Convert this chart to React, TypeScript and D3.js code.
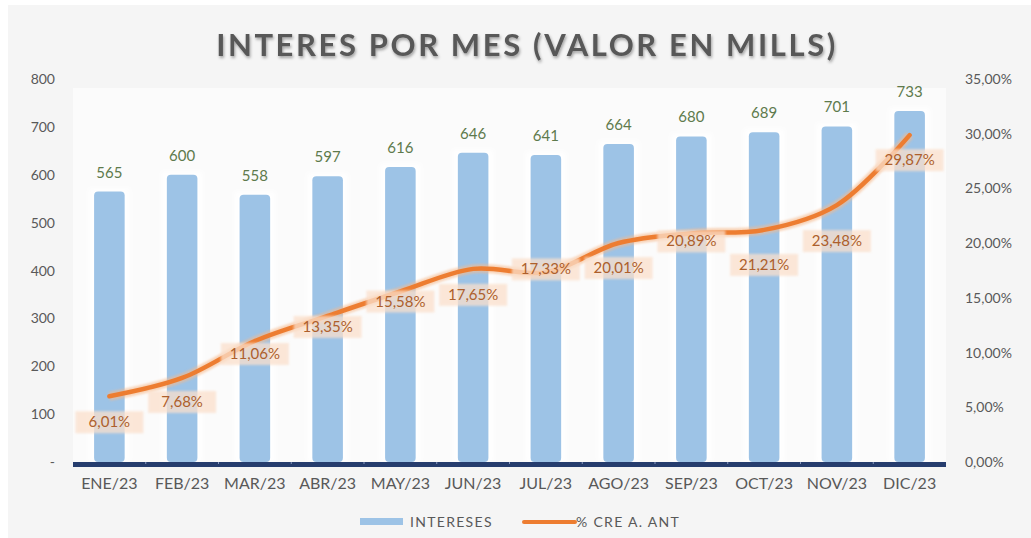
import React from "react";
import * as d3 from "d3";

const categories = ["ENE/23","FEB/23","MAR/23","ABR/23","MAY/23","JUN/23","JUL/23","AGO/23","SEP/23","OCT/23","NOV/23","DIC/23"];
const intereses = [565,600,558,597,616,646,641,664,680,689,701,733];
const crecimiento = [6.01,7.68,11.06,13.35,15.58,17.65,17.33,20.01,20.89,21.21,23.48,29.87];
// label offsets relative to line point (px)
const labelDy = [26,24,13,11,10,26,-3,25,8,35,36,25];
const leftTicks = [0,100,200,300,400,500,600,700,800];
const rightTicks = [0,5,10,15,20,25,30,35];

const W = 1031, H = 538;
const M = { left: 73, right: 946, top: 79, bottom: 462 };
const FONT = "Lato, 'Open Sans', sans-serif";

export default function App() {
  const x = d3.scaleBand().domain(categories).range([M.left, M.right]).paddingInner(0.58).paddingOuter(0.29);
  const xc = (c: string) => (x(c) as number) + x.bandwidth() / 2;
  const y = d3.scaleLinear().domain([0, 800]).range([M.bottom, M.top]);
  const y2 = d3.scaleLinear().domain([0, 35]).range([M.bottom, M.top]);
  const band = d3.scaleBand().domain(categories).range([M.left, M.right]);
  const line = d3.line<number>().x((_, i) => xc(categories[i])).y(d => y2(d)).curve(d3.curveCatmullRom.alpha(0.5));
  const fmt = (v: number) => v.toFixed(2).replace(".", ",") + "%";

  return (
    <svg width={W} height={H} style={{ position: "absolute", left: 0, top: 0, display: "block" }} fontFamily={FONT}>
      <defs>
        <filter id="tshadow" x="-10%" y="-30%" width="120%" height="160%">
          <feDropShadow dx="1" dy="2" stdDeviation="1.5" floodColor="#000" floodOpacity="0.35" />
        </filter>
        <filter id="blur1"><feGaussianBlur stdDeviation="1.2" /></filter>
        <filter id="glow" x="-20%" y="-20%" width="140%" height="140%">
          <feGaussianBlur stdDeviation="2.5" />
        </filter>
        <filter id="soft" x="-5%" y="-5%" width="110%" height="110%"><feGaussianBlur stdDeviation="0.6" /></filter>
      </defs>
      <rect x={0} y={0} width={W} height={H} fill="#ffffff" />
      <rect x={8} y={5} width={W - 8} height={H - 5} fill="#f5f5f5" />
      <rect x={M.left} y={88} width={M.right - M.left} height={M.bottom - 88} fill="#fbfbfb" />

      <text x={527} y={56} textAnchor="middle" fontSize={31} fontWeight="bold" fill="#595959" filter="url(#tshadow)" letterSpacing="2.6">
        INTERES POR MES (VALOR EN MILLS)
      </text>

      {/* bar glows */}
      <g filter="url(#glow)">
        {intereses.map((v, i) => (
          <rect key={i} x={(x(categories[i]) as number) - 5} y={y(v) - 3} width={x.bandwidth() + 10} height={M.bottom - y(v) + 3} fill="#ffffff" />
        ))}
      </g>
      <g filter="url(#soft)">
        {intereses.map((v, i) => (
          <rect key={i} x={x(categories[i]) as number} y={y(v)} width={x.bandwidth()} height={M.bottom - y(v)} rx={4} fill="#9dc3e6" />
        ))}
      </g>

      {/* axes lines */}
      <line x1={M.left} x2={M.left} y1={88} y2={M.bottom} stroke="#9a9a9a" strokeWidth={2} filter="url(#soft)" />
      <line x1={M.right} x2={M.right} y1={88} y2={M.bottom} stroke="#9a9a9a" strokeWidth={2} filter="url(#soft)" />
      <rect x={M.left} y={M.bottom} width={M.right - M.left} height={5} fill="#283c6e" filter="url(#soft)" />
      {categories.slice(1).map((c) => (
        <line key={c} x1={band(c) as number} x2={band(c) as number} y1={M.bottom} y2={M.bottom + 2} stroke="#8a9ac0" strokeWidth={1} />
      ))}

      {/* left ticks */}
      {leftTicks.map(t => (
        <text key={t} x={55} y={y(t) + 5} textAnchor="end" fontSize={14} fill="#595959">{t === 0 ? "-" : t}</text>
      ))}
      {/* right ticks */}
      {rightTicks.map(t => (
        <text key={t} x={965} y={y2(t) + 5} textAnchor="start" fontSize={14} fill="#595959">{t.toFixed(2).replace(".", ",") + "%"}</text>
      ))}
      {/* x labels */}
      {categories.map(c => (
        <text key={c} x={band(c)! + band.bandwidth() / 2} y={489} textAnchor="middle" fontSize={16} fill="#595959">{c}</text>
      ))}

      {/* bar labels */}
      {intereses.map((v, i) => (
        <text key={i} x={xc(categories[i])} y={y(v) - 14} textAnchor="middle" fontSize={15} fill="#5e7a4c">{v}</text>
      ))}

      {/* line */}
      <path d={line(crecimiento) || ""} fill="none" stroke="#f6b98c" strokeWidth={9} opacity={0.6} filter="url(#blur1)" />
      <path d={line(crecimiento) || ""} fill="none" stroke="#ed7d31" strokeWidth={4.5} strokeLinecap="round" />

      {/* line labels */}
      {crecimiento.map((v, i) => {
        const cx = xc(categories[i]);
        const cy = y2(v) + labelDy[i];
        return (
          <g key={i}>
            <rect x={cx - 34} y={cy - 11} width={68} height={22} fill="#fbe0cc" opacity={0.75} filter="url(#blur1)" />
            <text x={cx} y={cy + 5} textAnchor="middle" fontSize={15} fill="#ad5f2c">{fmt(v)}</text>
          </g>
        );
      })}

      {/* legend */}
      <rect x={360} y={518} width={43} height={7} fill="#9dc3e6" />
      <text x={410} y={527} fontSize={14} letterSpacing="1.3" fill="#595959">INTERESES</text>
      <line x1={524} x2={575} y1={522} y2={522} stroke="#ed7d31" strokeWidth={4} strokeLinecap="round" />
      <text x={576} y={527} fontSize={14} letterSpacing="1.3" fill="#595959">% CRE A. ANT</text>
    </svg>
  );
}
